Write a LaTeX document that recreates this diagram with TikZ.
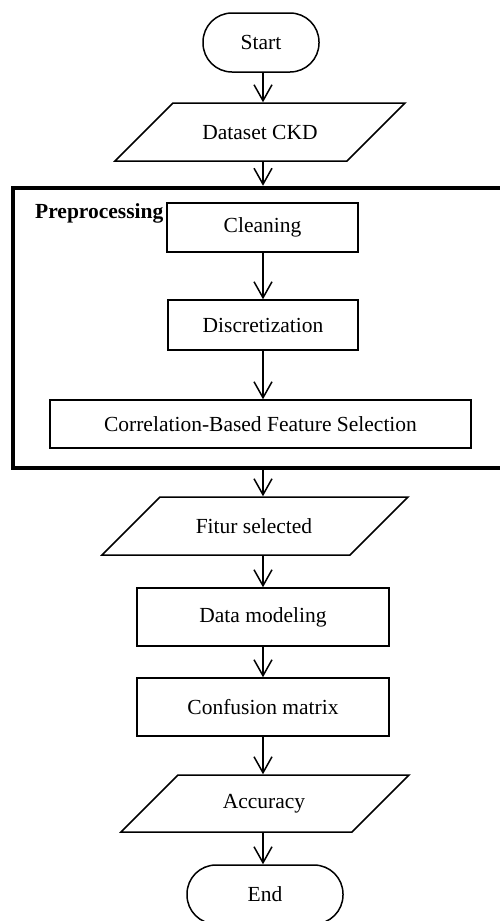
\documentclass[tikz,border=0pt]{standalone}
\usepackage{fontspec}
\setmainfont{Liberation Serif}
\usetikzlibrary{arrows.meta}
\tikzset{
  base/.style={draw, line width=1.5pt, inner sep=0pt, align=center,
    font=\fontsize{21.5}{25}\selectfont},
  term/.style={base, rectangle, rounded corners=29pt, minimum height=59pt},
  proc/.style={base, rectangle},
  iotext/.style={base, draw=none, rectangle},
  ioline/.style={line width=1.5pt, line join=miter},
  arr/.style={line width=1.5pt, -{Straight Barb[length=16pt,width=18pt,line width=1.5pt]}},
  group/.style={draw, line width=4.5pt, rectangle, inner sep=0pt}
}
\begin{document}
\begin{tikzpicture}[x=1pt,y=-1pt]
\useasboundingbox (0,0) rectangle (499,921);
\coordinate (axis) at (263,0);
\node[term, minimum width=116pt] (start) at (261,42.5) {Start};
\node[iotext, minimum width=232pt, minimum height=58pt] (data) at (260,132) {Dataset CKD};
\draw[ioline] (data.center) ++(-87,-29) -- ++(232,0) -- ++(-58,58) -- ++(-232,0) -- cycle;
\node[group, minimum width=510pt, minimum height=280pt] (prep) at (268,328) {};
\node[anchor=west, inner sep=0pt, font=\fontsize{21.5}{25}\selectfont\bfseries] (preplabel) at (35,213) {Preprocessing};
\node[proc, minimum width=191pt, minimum height=49pt] (clean) at (262.5,227.5) {Cleaning};
\node[proc, minimum width=190pt, minimum height=50pt] (disc) at (263,325) {Discretization};
\node[proc, minimum width=421pt, minimum height=48pt] (cfs) at (260.5,424) {Correlation-Based Feature Selection};
\node[iotext, minimum width=248pt, minimum height=58pt] (fitur) at (254,526) {Fitur selected};
\draw[ioline] (fitur.center) ++(-94,-29) -- ++(248,0) -- ++(-58,58) -- ++(-248,0) -- cycle;
\node[proc, minimum width=252pt, minimum height=58pt] (model) at (263,617) {Data modeling};
\node[proc, minimum width=252pt, minimum height=58pt] (conf) at (263,707) {Confusion matrix};
\node[iotext, minimum width=231pt, minimum height=57pt] (acc) at (264,803.5) {Accuracy};
\draw[ioline] (acc.center) ++(-86,-28.5) -- ++(231,0) -- ++(-57,57) -- ++(-231,0) -- cycle;
\node[term, minimum width=156pt] (end) at (265,894.5) {End};
\draw[arr] (start.south -| axis) -- (data.north -| axis);
\draw[arr] (data.south -| axis) -- (prep.north -| axis);
\draw[arr] (clean.south -| axis) -- (disc.north -| axis);
\draw[arr] (disc.south -| axis) -- (cfs.north -| axis);
\draw[arr] (prep.south -| axis) -- (fitur.north -| axis);
\draw[arr] (fitur.south -| axis) -- (model.north -| axis);
\draw[arr] (model.south -| axis) -- (conf.north -| axis);
\draw[arr] (conf.south -| axis) -- (acc.north -| axis);
\draw[arr] (acc.south -| axis) -- (end.north -| axis);
\end{tikzpicture}
\end{document}
